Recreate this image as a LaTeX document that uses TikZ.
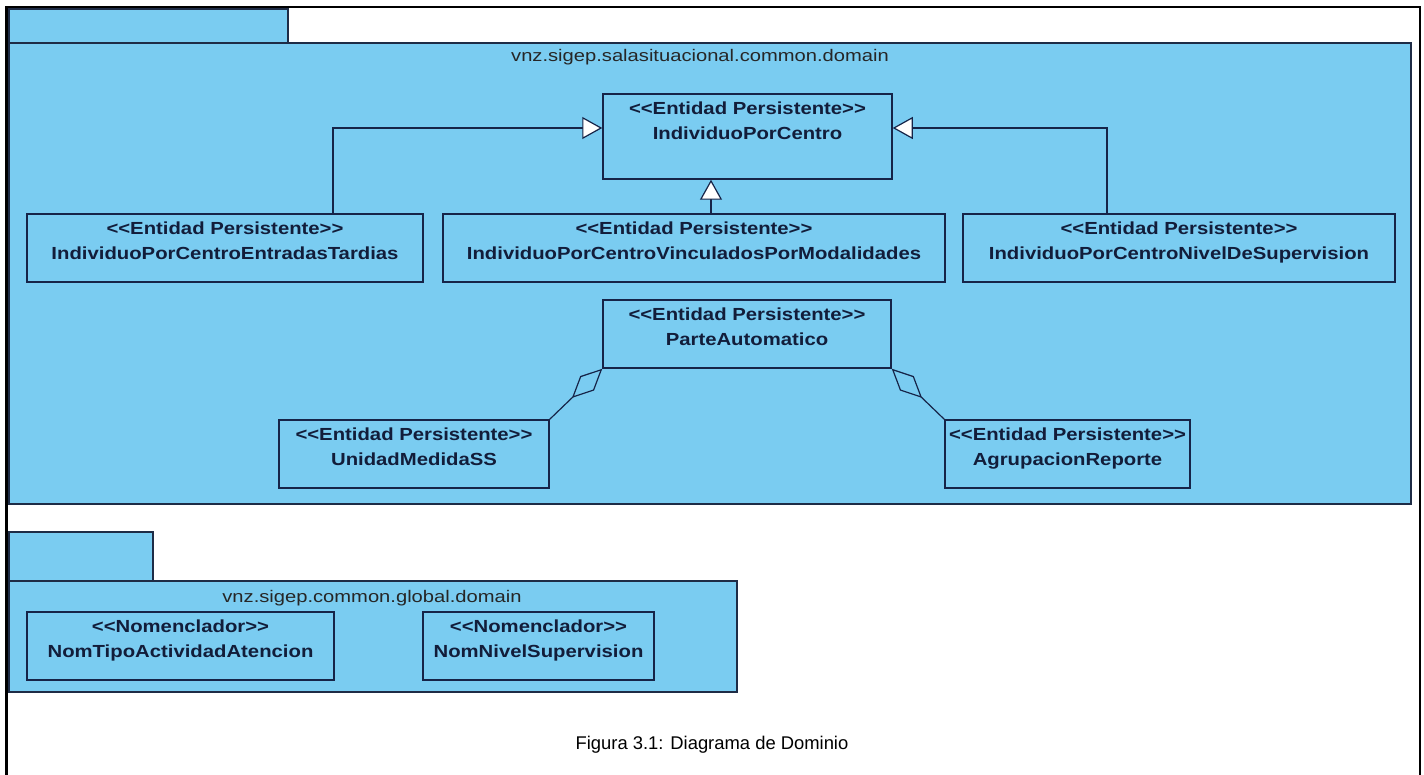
\documentclass[tikz,border=0pt]{standalone}
\usepackage{fontspec}
\setmainfont{Liberation Sans}
\newfontfamily\umlfont[FakeStretch=1.16]{Liberation Sans}
\newfontfamily\pkgfont[FakeStretch=1.2]{Liberation Sans}
\usetikzlibrary{arrows.meta,fit,calc}

\definecolor{pkgfill}{RGB}{122,204,241}
\definecolor{pkgline}{RGB}{30,44,70}
\definecolor{clsline}{RGB}{22,36,72}

\tikzset{
  pkgtab/.style={draw=pkgline, line width=1.5pt, fill=pkgfill},
  pkgbody/.style={draw=pkgline, line width=1.5pt, fill=pkgfill},
  pkgtitle/.style={font=\pkgfont\fontsize{16.8}{20}\selectfont, text=black!85},
  clsbox/.style={draw=clsline, line width=1.5pt, inner sep=0pt},
  clstext/.style={font=\umlfont\bfseries\fontsize{17.5}{25}\selectfont, text=clsline!80!black,
    align=center, anchor=north, inner sep=0pt},
  gen/.style={draw=clsline, line width=1.2pt,
    -{Triangle[length=20pt, width=22pt, fill=white, line width=1.2pt]}},
  agg/.style={draw=clsline, line width=1.2pt,
    -{Diamond[open, length=42pt, width=20pt, line width=1.2pt]}},
  caption/.style={font=\fontsize{18.4}{22}\selectfont, text=black}
}

\begin{document}
\begin{tikzpicture}[x=1pt, y=-1pt]
\useasboundingbox (0,0) rectangle (1424,775);
\fill[white] (0,0) rectangle (1424,775);

% outer frame
\draw[black, line width=3pt] (6,775) -- (6,7);
\draw[black, line width=2pt] (5,7) -- (1420,7) -- (1420,775);

% package vnz.sigep.salasituacional.common.domain
\path[pkgtab] (9,9) rectangle (288,43);
\path[pkgbody] (9,43) rectangle (1411,504);
\node[pkgtitle] (ptitle1) at (700,57) {vnz.sigep.salasituacional.common.domain};

% classes
\node[clsbox, fit={(603,94) (892,179)}] (ipc) {};
\node[clstext] (ipct) at ([yshift=-8pt]ipc.north) {<<Entidad Persistente>>\\IndividuoPorCentro};

\node[clsbox, fit={(27,214) (423,282)}] (ipcet) {};
\node[clstext] (ipcett) at ([yshift=-8pt]ipcet.north) {<<Entidad Persistente>>\\IndividuoPorCentroEntradasTardias};

\node[clsbox, fit={(443,214) (945,282)}] (ipcvm) {};
\node[clstext] (ipcvmt) at ([yshift=-8pt]ipcvm.north) {<<Entidad Persistente>>\\IndividuoPorCentroVinculadosPorModalidades};

\node[clsbox, fit={(963,214) (1395,282)}] (ipcns) {};
\node[clstext] (ipcnst) at ([yshift=-8pt]ipcns.north) {<<Entidad Persistente>>\\IndividuoPorCentroNivelDeSupervision};

\node[clsbox, fit={(603,300) (891,368)}] (pa) {};
\node[clstext] (pat) at ([yshift=-8pt]pa.north) {<<Entidad Persistente>>\\ParteAutomatico};

\node[clsbox, fit={(279,420) (549,488)}] (ums) {};
\node[clstext] (umst) at ([yshift=-8pt]ums.north) {<<Entidad Persistente>>\\UnidadMedidaSS};

\node[clsbox, fit={(945,420) (1190,488)}] (agr) {};
\node[clstext] (agrt) at ([yshift=-8pt]agr.north) {<<Entidad Persistente>>\\AgrupacionReporte};

% generalizations
\coordinate (gl) at (333,128);
\coordinate (gr) at (1107,128);
\coordinate (gm) at (711,0);
\draw[gen] (ipcet.north -| gl) |- (gl -| ipc.west);
\draw[gen] (ipcns.north -| gr) |- (gr -| ipc.east);
\draw[gen] (ipcvm.north -| gm) -- (ipc.south -| gm);

% aggregations
\draw[agg] (ums.north east) -- (pa.south west);
\draw[agg] (agr.north west) -- (pa.south east);

% package vnz.sigep.common.global.domain
\path[pkgtab] (9,532) rectangle (153,581);
\path[pkgbody] (9,581) rectangle (737,692);
\node[pkgtitle] (ptitle2) at (372,598) {vnz.sigep.common.global.domain};

\node[clsbox, fit={(27,612) (334,680)}] (ntaa) {};
\node[clstext] (ntaat) at ([yshift=-8pt]ntaa.north) {<<Nomenclador>>\\NomTipoActividadAtencion};

\node[clsbox, fit={(423,612) (654,680)}] (nns) {};
\node[clstext] (nnst) at ([yshift=-8pt]nns.north) {<<Nomenclador>>\\NomNivelSupervision};

% caption
\node[caption] (cap) at (712,745) {Figura 3.1: Diagrama de Dominio};
\end{tikzpicture}
\end{document}
